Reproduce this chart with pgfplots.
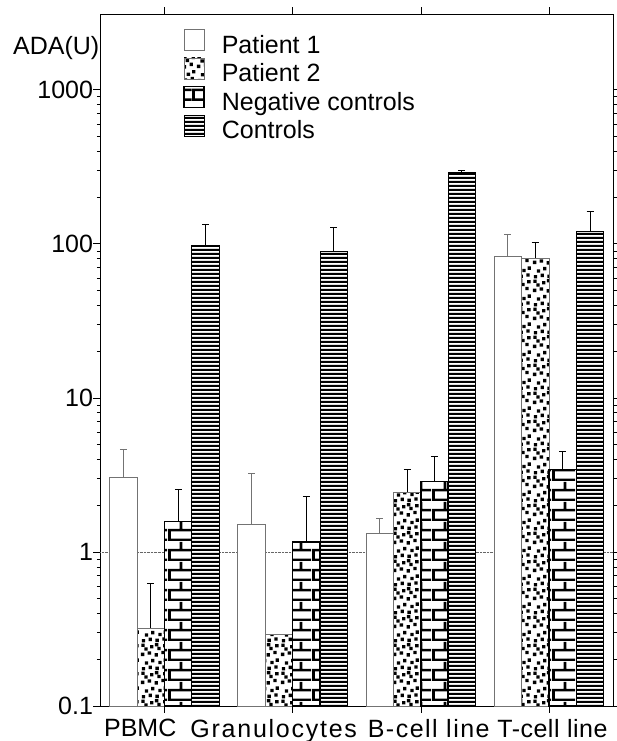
\documentclass[border=0pt]{standalone}
\usepackage{fontspec}
\setmainfont{Liberation Sans}
\usepackage{pgfplots}
\pgfplotsset{compat=1.18}
\usetikzlibrary{patterns}

\pgfdeclarepatternformonly{mybricks}{\pgfpointorigin}{\pgfpoint{24bp}{20bp}}{\pgfpoint{24bp}{20bp}}{%
  \pgfpathrectangle{\pgfpoint{0bp}{0bp}}{\pgfpoint{24bp}{2.6bp}}%
  \pgfpathrectangle{\pgfpoint{0bp}{10bp}}{\pgfpoint{24bp}{2.6bp}}%
  \pgfpathrectangle{\pgfpoint{0bp}{0bp}}{\pgfpoint{3bp}{10bp}}%
  \pgfpathrectangle{\pgfpoint{12bp}{10bp}}{\pgfpoint{3bp}{10bp}}%
  \pgfusepath{fill}%
}
\pgfdeclarepatternformonly{mychecks}{\pgfpointorigin}{\pgfpoint{28bp}{28bp}}{\pgfpoint{28bp}{28bp}}{%
  \pgfpathrectangle{\pgfpoint{1bp}{1bp}}{\pgfpoint{3.4bp}{3.4bp}}%
  \pgfpathrectangle{\pgfpoint{8bp}{2.5bp}}{\pgfpoint{3.4bp}{3.4bp}}%
  \pgfpathrectangle{\pgfpoint{4.5bp}{6.5bp}}{\pgfpoint{3.4bp}{3.4bp}}%
  \pgfpathrectangle{\pgfpoint{10.5bp}{9bp}}{\pgfpoint{3.4bp}{3.4bp}}%
  \pgfpathrectangle{\pgfpoint{1.5bp}{10.5bp}}{\pgfpoint{3.4bp}{3.4bp}}%
  \pgfpathrectangle{\pgfpoint{15bp}{0.5bp}}{\pgfpoint{3.4bp}{3.4bp}}%
  \pgfpathrectangle{\pgfpoint{22bp}{3bp}}{\pgfpoint{3.4bp}{3.4bp}}%
  \pgfpathrectangle{\pgfpoint{18bp}{7bp}}{\pgfpoint{3.4bp}{3.4bp}}%
  \pgfpathrectangle{\pgfpoint{24bp}{10bp}}{\pgfpoint{3.4bp}{3.4bp}}%
  \pgfpathrectangle{\pgfpoint{15.5bp}{11bp}}{\pgfpoint{3.4bp}{3.4bp}}%
  \pgfpathrectangle{\pgfpoint{2bp}{15bp}}{\pgfpoint{3.4bp}{3.4bp}}%
  \pgfpathrectangle{\pgfpoint{9bp}{16.5bp}}{\pgfpoint{3.4bp}{3.4bp}}%
  \pgfpathrectangle{\pgfpoint{5bp}{21bp}}{\pgfpoint{3.4bp}{3.4bp}}%
  \pgfpathrectangle{\pgfpoint{11.5bp}{23.5bp}}{\pgfpoint{3.4bp}{3.4bp}}%
  \pgfpathrectangle{\pgfpoint{16bp}{15.5bp}}{\pgfpoint{3.4bp}{3.4bp}}%
  \pgfpathrectangle{\pgfpoint{23bp}{17bp}}{\pgfpoint{3.4bp}{3.4bp}}%
  \pgfpathrectangle{\pgfpoint{19bp}{21.5bp}}{\pgfpoint{3.4bp}{3.4bp}}%
  \pgfpathrectangle{\pgfpoint{24.5bp}{24bp}}{\pgfpoint{3.4bp}{3.4bp}}%
  \pgfusepath{fill}%
}
\pgfdeclarepatternformonly{myhlines}{\pgfpointorigin}{\pgfpoint{60bp}{4.3bp}}{\pgfpoint{60bp}{4.3bp}}{%
  \pgfpathrectangle{\pgfpoint{-1bp}{0bp}}{\pgfpoint{62bp}{2.4bp}}%
  \pgfusepath{fill}%
}

\newcommand{\bigfont}{\fontsize{25bp}{30bp}\selectfont}
\newcommand{\ls}[2]{{\addfontfeature{LetterSpace=#1}#2}}

\begin{document}
\begin{tikzpicture}
\begin{axis}[
  at={(0,0)}, anchor=south west,
  scale only axis, width=512.5bp, height=692bp,
  ymode=log, ymin=0.1, ymax=3100, log origin y=infty,
  xmin=-0.5, xmax=3.5,
  ybar=0pt, bar width=0.214,
  ytick={0.1,1,10,100,1000},
  yticklabels={\mbox{\bigfont 0.1},\mbox{\bigfont 1},\mbox{\bigfont 10},\mbox{\bigfont 100},\mbox{\bigfont 1000}},
  yticklabel style={font=\bigfont, xshift=3bp},
  xtick={0,1,2,3}, xticklabels={},
  extra x ticks={-0.19,0.852,2.062,3.027},
  extra x tick labels={PBMC,\ls{7}{Granulocytes},\ls{6}{B-cell line},\ls{2}{T-cell line}},
  extra x tick style={tick style={draw=none}, xticklabel style={font=\bigfont, yshift=-2.5bp}},
  extra y ticks={1}, extra y tick labels={},
  extra y tick style={grid=major, grid style={densely dotted, black!60, line width=0.6bp}},
  tick align=outside, tick pos=both,
  major tick length=7bp, minor tick length=3.5bp,
  tick style={black, line width=0.6bp},
  axis line style={line width=0.8bp},
  clip=false,
  legend style={at={(0.161,0.9783)}, anchor=north west, draw=none, fill=none, font=\bigfont,
    inner sep=0pt, row sep=-0.6bp, nodes={inner sep=0pt, text height=18bp, text depth=5bp}},
  legend cell align=left,
  legend image code/.code={\draw[#1] (0bp,-4bp) rectangle (20bp,17bp); \path (37bp,0bp);},
  error bars/y explicit,
  error bars/error bar style={line width=0.9bp, black},
  error bars/error mark options={line width=0.9bp, black, mark size=3.5bp, rotate=90},
]
\addplot[bar shift=-0.321, fill=white, draw=black!55, line width=0.8bp,
  error bars/y dir=plus,
  error bars/error bar style={line width=0.9bp, black!55},
  error bars/error mark options={line width=0.9bp, black!55, mark size=3.5bp, rotate=90}]
  coordinates {(0,3.06) +- (0,1.54) (1,1.5) +- (0,1.75) (2,1.32) +- (0,0.32) (3,83.4) +- (0,31)};
\addplot[bar shift=-0.107, fill=white, postaction={pattern=mychecks}, draw=black!55, line width=0.8bp]
  coordinates {(0,0.32) (1,0.29) (2,2.44) (3,80.5)};
\addplot[bar shift=0.107, fill=white, postaction={pattern=mybricks}, draw=black, line width=1.6bp,
  error bars/y dir=plus]
  coordinates {(0,1.58) +- (0,0.96) (1,1.16) +- (0,1.14) (2,2.86) +- (0,1.28) (3,3.43) +- (0,1.03)};
\addplot[bar shift=0.321, fill=white, postaction={pattern=myhlines}, draw=black, line width=1bp,
  error bars/y dir=plus]
  coordinates {(0,98) +- (0,35) (1,89) +- (0,38) (2,289) +- (0,8) (3,121) +- (0,40)};
\addplot[bar shift=-0.107, draw=none, fill=none, forget plot, error bars/y dir=plus]
  coordinates {(0,0.32) +- (0,0.30) (2,2.44) +- (0,0.99) (3,80.5) +- (0,22)};
\legend{Patient 1, Patient 2, Negative controls, Controls}
\node[anchor=base west, inner sep=0pt, font=\bigfont, xshift=-87.5bp, yshift=-41bp] at (rel axis cs:0,1) {ADA(U)};
\end{axis}
\pgfresetboundingbox
\path (-100.5bp,-35bp) rectangle (516.5bp,706bp);
\end{tikzpicture}
\end{document}
